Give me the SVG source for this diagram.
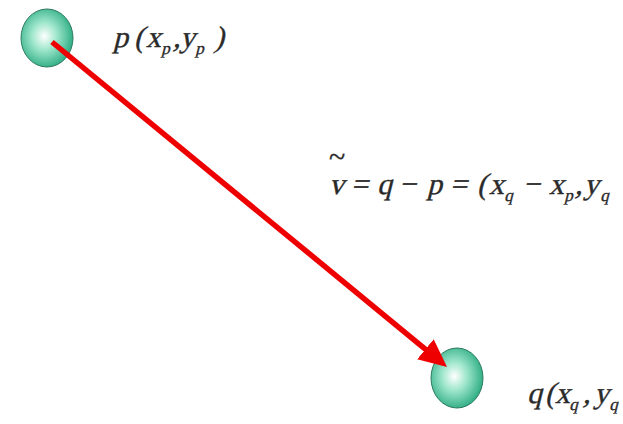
<svg xmlns="http://www.w3.org/2000/svg" width="623" height="424" viewBox="0 0 623 424">
<style>
text{font-family:'Liberation Serif',serif;font-style:normal;font-size:30px;fill:#2a2a2a;stroke:#2a2a2a;stroke-width:0.35}
.s{font-size:17px}
</style>
<defs>
<radialGradient id="g" cx="0.45" cy="0.47" r="0.6">
<stop offset="0" stop-color="#ffffff"/>
<stop offset="0.4" stop-color="#9ee6cc"/>
<stop offset="1" stop-color="#1fa57a"/>
</radialGradient>
<marker id="ah" markerWidth="28" markerHeight="26" refX="8" refY="13" orient="auto" markerUnits="userSpaceOnUse">
<path d="M0,0 L28,13 L0,26 Z" fill="#ee0000"/>
</marker>
</defs>
<rect width="623" height="424" fill="#fff"/>
<g id="p">
<ellipse cx="47" cy="38" rx="26" ry="29" fill="url(#g)" stroke="#2d7a60" stroke-width="1"/>
<text y="47" transform="translate(0,47) skewX(-14) translate(0,-47)"><tspan x="113">p</tspan><tspan x="134">(</tspan><tspan x="146">x</tspan><tspan class="s" x="163" y="54">p</tspan><tspan x="173" y="47">,</tspan><tspan x="180">y</tspan><tspan class="s" x="197" y="54">p</tspan><tspan x="214" y="47">)</tspan></text>
</g>
<g id="q">
<ellipse cx="457" cy="378" rx="26" ry="30" fill="url(#g)" stroke="#2d7a60" stroke-width="1"/>
<text y="403" transform="translate(0,403) skewX(-14) translate(0,-403)"><tspan x="527">q</tspan><tspan x="545">(</tspan><tspan x="555">x</tspan><tspan class="s" x="571" y="410">q</tspan><tspan x="583" y="403">,</tspan><tspan x="594">y</tspan><tspan class="s" x="611" y="410">q</tspan></text>
</g>
<g id="connectors">
<line x1="52" y1="42" x2="431.6" y2="354.3" stroke="#ee0000" stroke-width="5.5" marker-end="url(#ah)"/>
</g>
<g id="label">
<text x="329" y="167" font-size="18">~</text>
<text y="194" transform="translate(0,194) skewX(-14) translate(0,-194)"><tspan x="329">v</tspan><tspan x="351">=</tspan><tspan x="377">q</tspan><tspan x="399">−</tspan><tspan x="427">p</tspan><tspan x="450">=</tspan><tspan x="477">(</tspan><tspan x="489">x</tspan><tspan class="s" x="506" y="201">q</tspan><tspan x="523" y="194">−</tspan><tspan x="549">x</tspan><tspan class="s" x="566" y="201">p</tspan><tspan x="575" y="194">,</tspan><tspan x="584">y</tspan><tspan class="s" x="602" y="201">q</tspan></text>
</g>
</svg>
